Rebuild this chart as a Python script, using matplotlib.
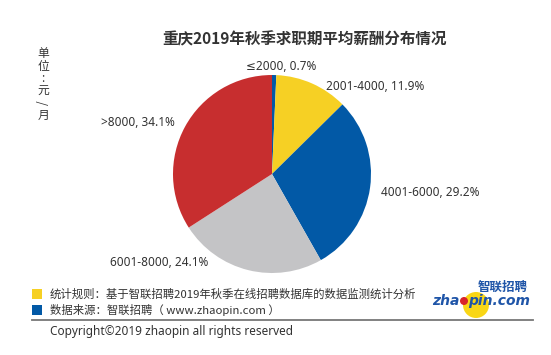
import matplotlib
matplotlib.use('Agg')
import matplotlib.pyplot as plt
from matplotlib.patches import Circle, Rectangle

plt.rcParams['font.family'] = ['Noto Sans CJK SC', 'DejaVu Sans']

# data
categories = ['≤2000', '2001-4000', '4001-6000', '6001-8000', '>8000']
shares = [0.7, 11.9, 29.2, 24.1, 34.1]
colors = ['#0259A6', '#F6D024', '#0259A6', '#C4C4C6', '#C72E2F']
title = '重庆2019年秋季求职期平均薪酬分布情况'
unit_label = ['单', '位', ':', '元', '/', '月']
notes = ['统计规则：基于智联招聘2019年秋季在线招聘数据库的数据监测统计分析',
         '数据来源：智联招聘（ www.zhaopin.com ）']
note_colors = ['#F6D024', '#0259A6']
copyright_text = 'Copyright©2019 zhaopin all rights reserved'

W, H = 551, 355
fig = plt.figure(figsize=(W / 100, H / 100), dpi=100)
ax = fig.add_axes([0, 0, 1, 1])

# pie, pixel coords (y measured from bottom)
cx, cy, r = 272, H - 174, 99
ax.pie(shares, colors=colors, startangle=90, counterclock=False,
       center=(cx, cy), radius=r, frame=True,
       wedgeprops=dict(linewidth=0))
ax.set_xlim(0, W)
ax.set_ylim(0, H)
ax.set_aspect('equal')
ax.axis('off')

text_c = '#333333'
lab_fs = 8.5
label_pos = [(281, 67, 'center'), (326, 87, 'left'), (381, 192, 'left'),
             (208, 263, 'right'), (175, 122, 'right')]
for cat, val, (lx, ly, ha) in zip(categories, shares, label_pos):
    ax.text(lx, H - ly, f'{cat}, {val}%', ha=ha, va='center',
            fontsize=lab_fs, color=text_c,
            family=['Noto Sans', 'DejaVu Sans'])

ax.text(304, H - 39, title, ha='center', va='center', fontsize=11.2,
        fontweight='bold', color='#333333')

for i, ch in enumerate(unit_label):
    rot = 90 if ch == '/' else 0
    ax.text(43, H - 54 - i * 12.2, ch, ha='center', va='center',
            fontsize=8.5, color=text_c, rotation=rot)

# notes
for i, (note, nc) in enumerate(zip(notes, note_colors)):
    y = H - 294 - i * 16
    ax.add_patch(Rectangle((32, y - 5), 10, 10, color=nc, linewidth=0))
    ax.text(50, y, note, ha='left', va='center', fontsize=8.2, color=text_c)

ax.plot([32, 533], [H - 320, H - 320], color='#777777', linewidth=1.3)
ax.text(50, H - 332, copyright_text, ha='left', va='center',
        fontsize=8.5, color=text_c, family=['Noto Sans', 'DejaVu Sans'])

# logo
ax.add_patch(Circle((476, H - 305), 13, color='#F9D616', linewidth=0))
blue = '#1F55A8'
ax.text(528, H - 287, '智联招聘', ha='right', va='center', fontsize=9,
        fontweight='bold', style='italic', color=blue)
ax.text(459, H - 301, 'zha', ha='right', va='center', fontsize=10,
        fontweight='bold', style='italic', color=blue, family='DejaVu Sans')
ax.add_patch(Circle((464, H - 301), 4, color='#D8232A', linewidth=0))
ax.text(468, H - 301, 'pin.com', ha='left', va='center', fontsize=10,
        fontweight='bold', style='italic', color=blue, family='DejaVu Sans')

fig.savefig('out.png', dpi=100)
